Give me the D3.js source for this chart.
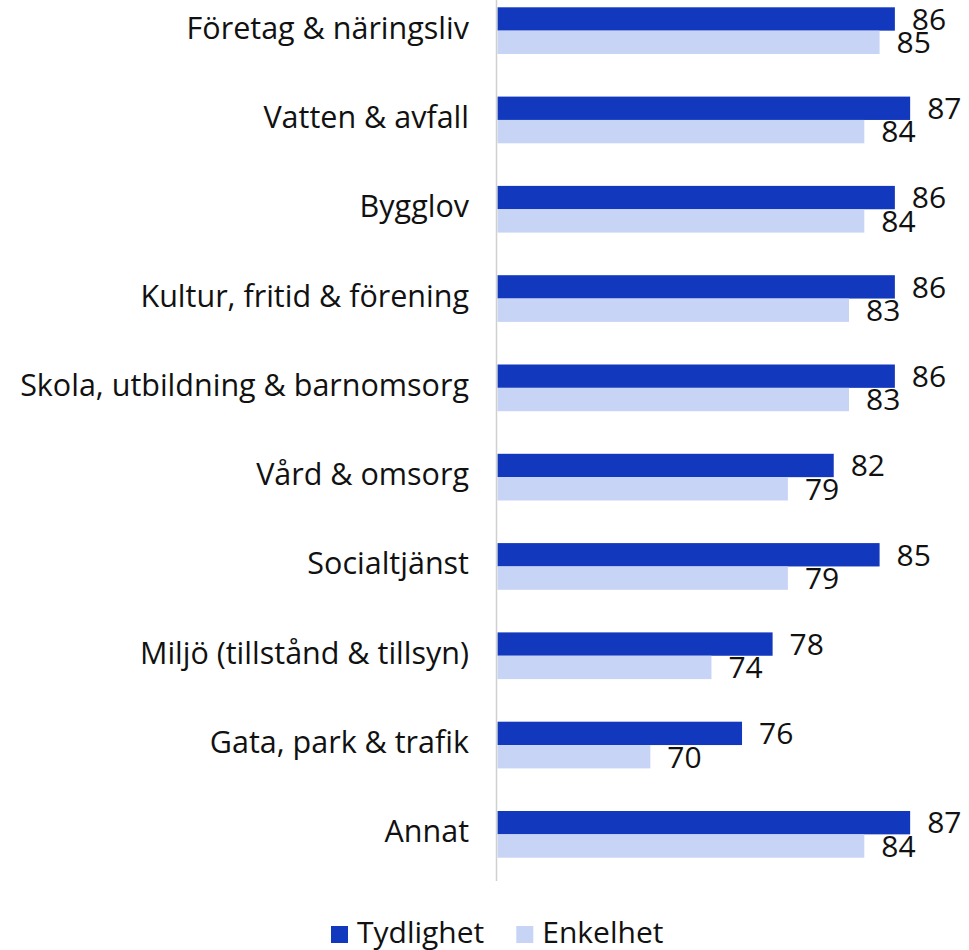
<!DOCTYPE html>
<html lang="sv">
<head>
<meta charset="utf-8">
<script src="https://cdn.jsdelivr.net/npm/d3@7"></script>
<style>
  html, body { margin: 0; padding: 0; background: #fff; }
  svg { display: block; }
  text { font-family: "Open Sans", "Noto Sans", sans-serif; fill: #111; }
</style>
</head>
<body>
<div id="chart"></div>
<script>
// Kategorier (uppifrån och ned)
const categories = [
  "Företag & näringsliv",
  "Vatten & avfall",
  "Bygglov",
  "Kultur, fritid & förening",
  "Skola, utbildning & barnomsorg",
  "Vård & omsorg",
  "Socialtjänst",
  "Miljö (tillstånd & tillsyn)",
  "Gata, park & trafik",
  "Annat"
];

// Serier
const seriesNames = ["Tydlighet", "Enkelhet"];
const tydlighet = [86, 87, 86, 86, 86, 82, 85, 78, 76, 87];
const enkelhet  = [85, 84, 84, 83, 83, 79, 79, 74, 70, 84];

// Värdeaxelns intervall
const xDomain = [60, 90];

const colors = { "Tydlighet": "#1238be", "Enkelhet": "#c8d4f6" };

const width = 969, height = 950;

const svg = d3.select("#chart").append("svg")
  .attr("width", width)
  .attr("height", height);

const x = d3.scaleLinear().domain(xDomain).range([497.5, 956]);

const y = d3.scaleBand()
  .domain(categories)
  .range([-14, 879])
  .paddingInner(0.477)
  .paddingOuter(0.2385);

const ySub = d3.scaleBand()
  .domain(seriesNames)
  .range([0, y.bandwidth()]);

const rows = categories.map((c, i) => ({
  category: c,
  values: [
    { series: "Tydlighet", value: tydlighet[i] },
    { series: "Enkelhet",  value: enkelhet[i] }
  ]
}));

// Grupper per kategori
const groups = svg.append("g").selectAll("g")
  .data(rows)
  .join("g")
  .attr("transform", d => `translate(0,${y(d.category)})`);

groups.selectAll("rect")
  .data(d => d.values)
  .join("rect")
  .attr("x", x(xDomain[0]))
  .attr("y", d => ySub(d.series))
  .attr("width", d => x(d.value) - x(xDomain[0]))
  .attr("height", ySub.bandwidth())
  .attr("fill", d => colors[d.series]);

// Värdeetiketter
groups.selectAll("text.value")
  .data(d => d.values)
  .join("text")
  .attr("class", "value")
  .attr("x", d => x(d.value) + 17)
  .attr("y", d => ySub(d.series) + ySub.bandwidth() / 2)
  .attr("dy", "0.36em")
  .attr("font-size", 30)
  .text(d => d.value);

// Kategoriaxel: linje + etiketter
svg.append("line")
  .attr("x1", 496.5).attr("x2", 496.5)
  .attr("y1", y.range()[0]).attr("y2", y.range()[1] + 2)
  .attr("stroke", "#d0d0d0")
  .attr("stroke-width", 1.5);

svg.append("g").selectAll("text")
  .data(categories)
  .join("text")
  .attr("x", 469)
  .attr("y", d => y(d) + y.bandwidth() / 2 - 3)
  .attr("dy", "0.36em")
  .attr("text-anchor", "end")
  .attr("font-size", 30.5)
  .text(d => d);

// Teckenförklaring
const legend = svg.append("g").attr("transform", "translate(331,926)");
let lx = 0;
seriesNames.forEach(name => {
  const item = legend.append("g").attr("transform", `translate(${lx},0)`);
  item.append("rect")
    .attr("width", 17).attr("height", 17)
    .attr("fill", colors[name]);
  const t = item.append("text")
    .attr("x", 26)
    .attr("y", 17)
    .attr("font-size", 30)
    .text(name);
  lx += 26 + t.node().getComputedTextLength() + 32;
});
</script>
</body>
</html>
